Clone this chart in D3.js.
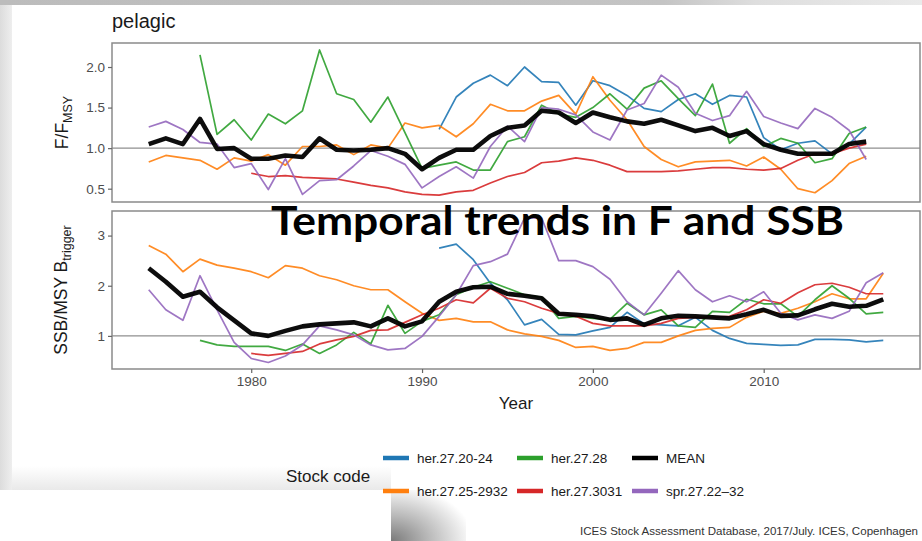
<!DOCTYPE html>
<html><head><meta charset="utf-8">
<script src="https://cdn.jsdelivr.net/npm/d3@7/dist/d3.min.js"></script>
<style>
body{margin:0;background:#fff;}
svg{display:block;font-family:"Liberation Sans",Arial,Helvetica,sans-serif;}
</style>
</head><body>
<svg id="chart" width="922" height="541"></svg>
<script>
// ---------------- DATA ----------------
const yearsF = [1974,1975,1976,1977,1978,1979,1980,1981,1982,1983,1984,1985,1986,1987,1988,1989,1990,1991,1992,1993,1994,1995,1996,1997,1998,1999,2000,2001,2002,2003,2004,2005,2006,2007,2008,2009,2010,2011,2012,2013,2014,2015,2016];
const yearsSSB = [1974,1975,1976,1977,1978,1979,1980,1981,1982,1983,1984,1985,1986,1987,1988,1989,1990,1991,1992,1993,1994,1995,1996,1997,1998,1999,2000,2001,2002,2003,2004,2005,2006,2007,2008,2009,2010,2011,2012,2013,2014,2015,2016,2017];

const stockCodes = ["her.27.20-24","her.27.25-2932","her.27.28","her.27.3031","MEAN","spr.27.22–32"];
const stockColors = ["#1f77b4","#ff7f0e","#2ca02c","#d62728","#000000","#9467bd"];

// F / FMSY  (1974-2016)
const fHer2024 = [null,null,null,null,null,null,null,null,null,null,null,null,null,null,null,null,null,
  1.23,1.63,1.80,1.90,1.77,2.00,1.82,1.81,1.53,1.83,1.77,1.65,1.49,1.45,1.60,1.67,1.54,1.65,1.63,1.13,0.98,1.06,1.09,0.93,1.05,1.26];
const fHer252932 = [0.83,0.91,0.88,0.85,0.74,0.88,0.84,0.92,0.79,1.02,1.02,1.04,0.92,1.04,1.00,1.31,1.25,1.28,1.14,1.30,
  1.54,1.46,1.46,1.58,1.65,1.42,1.88,1.59,1.35,1.02,0.86,0.77,0.83,0.84,0.85,0.78,0.89,0.74,0.50,0.45,0.60,0.81,0.90];
const fHer28 = [null,null,null,2.15,1.17,1.35,1.10,1.42,1.30,1.46,2.21,1.67,1.60,1.32,1.63,1.19,0.75,0.79,0.83,0.73,
  0.73,1.08,1.14,1.53,1.42,1.38,1.50,1.67,1.48,1.74,1.83,1.61,1.40,1.79,1.06,1.24,1.02,1.12,1.06,0.82,0.87,1.18,1.26];
const fHer3031 = [null,null,null,null,null,null,0.69,0.65,0.66,0.64,0.63,0.62,0.58,0.54,0.51,0.46,0.43,0.42,0.46,0.48,
  0.57,0.65,0.70,0.82,0.84,0.88,0.85,0.79,0.71,0.71,0.71,0.72,0.74,0.76,0.76,0.74,0.73,0.75,0.85,0.93,0.93,1.00,1.05];
const fMean = [1.05,1.12,1.05,1.36,0.99,1.00,0.87,0.87,0.91,0.89,1.12,0.98,0.97,0.98,1.00,0.93,0.74,0.88,0.98,0.98,
  1.15,1.25,1.28,1.46,1.44,1.31,1.44,1.38,1.33,1.30,1.35,1.28,1.21,1.25,1.15,1.21,1.05,0.98,0.93,0.93,0.93,1.05,1.08];
const fSpr2232 = [1.26,1.33,1.23,1.07,1.05,0.76,0.81,0.49,0.87,0.43,0.60,0.61,0.78,0.97,0.90,0.80,0.51,0.65,0.77,0.63,
  1.02,1.27,1.08,1.50,1.48,1.41,1.20,1.10,1.47,1.55,1.90,1.75,1.43,1.34,1.40,1.70,1.39,1.31,1.24,1.49,1.38,1.22,0.86];

// SSB / MSY Btrigger  (1974-2017)
const ssbHer2024 = [null,null,null,null,null,null,null,null,null,null,null,null,null,null,null,null,null,
  2.75,2.83,2.52,2.05,1.72,1.22,1.33,1.03,1.02,1.10,1.17,1.47,1.24,1.22,1.20,1.37,1.11,0.95,0.85,0.83,0.81,0.82,0.93,0.93,0.92,0.88,0.91];
const ssbHer252932 = [2.80,2.63,2.28,2.53,2.41,2.35,2.28,2.16,2.40,2.35,2.20,2.12,2.00,1.92,1.92,1.68,1.45,1.31,1.35,1.28,
  1.28,1.12,1.04,0.99,0.91,0.77,0.79,0.71,0.75,0.87,0.87,1.00,1.11,1.15,1.17,1.37,1.49,1.45,1.55,1.68,1.84,1.74,1.74,2.25];
const ssbHer28 = [null,null,null,0.91,0.82,0.79,0.79,0.79,0.71,0.84,0.65,0.82,1.07,0.84,1.61,1.05,1.29,1.42,1.82,1.97,
  2.08,1.95,1.82,1.77,1.35,1.39,1.35,1.33,1.65,1.42,1.52,1.20,1.17,1.49,1.47,1.73,1.64,1.64,1.39,1.72,2.00,1.75,1.44,1.47];
const ssbHer3031 = [null,null,null,null,null,null,0.65,0.61,0.65,0.69,0.84,0.92,0.99,1.11,1.12,1.27,1.42,1.55,1.72,1.66,
  1.95,1.75,1.68,1.55,1.45,1.39,1.25,1.20,1.20,1.20,1.25,1.35,1.37,1.37,1.39,1.52,1.72,1.65,1.86,2.02,2.05,1.97,1.84,1.84];
const ssbMean = [2.35,2.08,1.78,1.88,1.57,1.31,1.05,1.00,1.10,1.19,1.23,1.25,1.27,1.19,1.35,1.19,1.29,1.68,1.88,1.97,
  1.98,1.84,1.80,1.75,1.44,1.42,1.39,1.32,1.35,1.22,1.35,1.40,1.39,1.37,1.35,1.43,1.52,1.40,1.41,1.53,1.64,1.58,1.60,1.73];
const ssbSpr2232 = [1.92,1.52,1.31,2.20,1.52,0.87,0.55,0.47,0.60,0.82,1.20,1.12,1.02,0.82,0.72,0.75,0.99,1.39,1.82,2.40,
  2.48,2.63,3.35,3.35,2.50,2.50,2.38,2.13,1.68,1.42,1.85,2.30,1.92,1.68,1.80,1.68,1.88,1.45,1.32,1.42,1.35,1.49,2.06,2.26];

const fTicks = [0.5,1.0,1.5,2.0];
const ssbTicks = [1,2,3];
const yearTicks = [1980,1990,2000,2010];

// ---------------- DRAW ----------------
const svg = d3.select("#chart");
const defs = svg.append("defs");

// slide background pieces
const gTop = defs.append("linearGradient").attr("id","gTop").attr("x1","0").attr("x2","1").attr("y1","0").attr("y2","0");
gTop.append("stop").attr("offset","0").attr("stop-color","#bcbcbc");
gTop.append("stop").attr("offset","0.72").attr("stop-color","#c4c4c4");
gTop.append("stop").attr("offset","0.82").attr("stop-color","#dedede");
gTop.append("stop").attr("offset","1").attr("stop-color","#eaeaea");
const gLeft = defs.append("linearGradient").attr("id","gLeft").attr("x1","0").attr("x2","1").attr("y1","0").attr("y2","0");
gLeft.append("stop").attr("offset","0").attr("stop-color","#dcdcdc");
gLeft.append("stop").attr("offset","1").attr("stop-color","#eeeeee");
const gBand = defs.append("linearGradient").attr("id","gBand").attr("x1","0").attr("x2","0").attr("y1","0").attr("y2","1");
gBand.append("stop").attr("offset","0").attr("stop-color","#ffffff");
gBand.append("stop").attr("offset","1").attr("stop-color","#e9e9e9");
const gShadow = defs.append("radialGradient").attr("id","gShadow").attr("cx","0").attr("cy","1").attr("r","1.1");
gShadow.append("stop").attr("offset","0").attr("stop-color","#7a7a7a");
gShadow.append("stop").attr("offset","0.45").attr("stop-color","#b8b8b8");
gShadow.append("stop").attr("offset","1").attr("stop-color","#ffffff");

svg.append("rect").attr("x",0).attr("y",0).attr("width",922).attr("height",541).attr("fill","#fff");
svg.append("rect").attr("x",0).attr("y",0).attr("width",922).attr("height",5).attr("fill","url(#gTop)");
svg.append("rect").attr("x",0).attr("y",5).attr("width",12).attr("height",485).attr("fill","url(#gLeft)");
svg.append("rect").attr("x",12).attr("y",466).attr("width",379).attr("height",24).attr("fill","url(#gBand)");
svg.append("rect").attr("x",391).attr("y",490).attr("width",75).attr("height",51).attr("fill","url(#gShadow)");

const x = d3.scaleLinear().domain([1971.85, 2019.15]).range([112, 920]);
const yF = d3.scaleLinear().domain([0.336, 2.296]).range([202, 43]);
const yS = d3.scaleLinear().domain([0.34, 3.49]).range([369, 211]);

const fSeries = [fHer2024, fHer252932, fHer28, fHer3031, fMean, fSpr2232];
const sSeries = [ssbHer2024, ssbHer252932, ssbHer28, ssbHer3031, ssbMean, ssbSpr2232];

function panel(years, series, y, ticks, fmt, showX) {
  const [y0, y1] = y.range();
  // reference line at 1
  svg.append("line").attr("x1",112).attr("x2",920).attr("y1",y(1)).attr("y2",y(1))
    .attr("stroke","#8f8f8f").attr("stroke-width",1.4);
  const line = d3.line().defined(d => d.v != null).x(d => x(d.yr)).y(d => y(d.v));
  const order = [0,1,2,3,5,4];
  order.forEach(i => {
    const data = years.map((yr, k) => ({yr, v: series[i][k]}));
    svg.append("path").attr("d", line(data)).attr("fill","none")
      .attr("stroke", stockColors[i])
      .attr("stroke-width", i === 4 ? 4.6 : 1.7)
      .attr("stroke-opacity", i === 4 ? 0.95 : 0.9)
      .attr("stroke-linejoin","round");
  });
  // border
  svg.append("rect").attr("x",112).attr("y",y1).attr("width",808).attr("height",y0-y1)
    .attr("fill","none").attr("stroke","#8a8a8a").attr("stroke-width",1.5);
  // y axis
  const ay = svg.append("g").attr("transform","translate(112,0)")
    .call(d3.axisLeft(y).tickValues(ticks).tickFormat(fmt).tickSize(4).tickPadding(3));
  ay.select(".domain").remove();
  ay.selectAll("line").attr("stroke","#666").attr("stroke-width",1.2);
  ay.selectAll("text").attr("fill","#4d4d4d").attr("font-size","13.5px")
    .attr("font-family","Liberation Sans, Arial, sans-serif");
  if (showX) {
    const ax = svg.append("g").attr("transform",`translate(0,${y0})`)
      .call(d3.axisBottom(x).tickValues(yearTicks).tickFormat(d3.format("d")).tickSize(4).tickPadding(3));
    ax.select(".domain").remove();
    ax.selectAll("line").attr("stroke","#666").attr("stroke-width",1.2);
    ax.selectAll("text").attr("fill","#4d4d4d").attr("font-size","13.5px")
      .attr("font-family","Liberation Sans, Arial, sans-serif");
  }
}

panel(yearsF, fSeries, yF, fTicks, d3.format(".1f"), false);
panel(yearsSSB, sSeries, yS, ssbTicks, d3.format("d"), true);

// titles
svg.append("text").attr("x",112).attr("y",28).attr("font-size","20px").attr("fill","#1a1a1a").text("pelagic");

const t1 = svg.append("text").attr("transform",`translate(68,${(43+202)/2}) rotate(-90)`)
  .attr("text-anchor","middle").attr("font-size","17.5px").attr("fill","#1a1a1a");
t1.append("tspan").text("F/F");
t1.append("tspan").attr("font-size","12.5px").attr("dy","4").text("MSY");

const t2 = svg.append("text").attr("transform",`translate(67,${(211+369)/2}) rotate(-90)`)
  .attr("text-anchor","middle").attr("font-size","17.5px").attr("fill","#1a1a1a");
t2.append("tspan").text("SSB/MSY B");
t2.append("tspan").attr("font-size","12.5px").attr("dy","4").text("trigger");

svg.append("text").attr("x",516).attr("y",409).attr("text-anchor","middle")
  .attr("font-size","17px").attr("fill","#1a1a1a").text("Year");

// legend
svg.append("text").attr("x",286).attr("y",482).attr("font-size","17px").attr("fill","#1a1a1a").text("Stock code");
const legCols = [383, 517, 632];
const legRows = [458, 491];
stockCodes.forEach((name, i) => {
  const col = Math.floor(i / 2), row = i % 2;
  const lx = legCols[col], ly = legRows[row];
  svg.append("line").attr("x1",lx).attr("x2",lx+26).attr("y1",ly).attr("y2",ly)
    .attr("stroke",stockColors[i]).attr("stroke-width",4.5);
  svg.append("text").attr("x",lx+34).attr("y",ly+5).attr("font-size","13.5px").attr("fill","#1a1a1a").text(name);
});

// credit
svg.append("text").attr("x",580).attr("y",535).attr("font-size","11px").attr("fill","#333")
  .attr("textLength",338).attr("lengthAdjust","spacingAndGlyphs")
  .text("ICES Stock Assessment Database, 2017/July. ICES, Copenhagen");

// slide overlay title
svg.append("text").attr("x",271).attr("y",235).attr("font-family","Lato, 'Open Sans', sans-serif")
  .attr("font-weight","bold").attr("font-size","41px").attr("fill","#000")
  .attr("textLength",573).attr("lengthAdjust","spacingAndGlyphs")
  .text("Temporal trends in F and SSB");
</script>
</body></html>
